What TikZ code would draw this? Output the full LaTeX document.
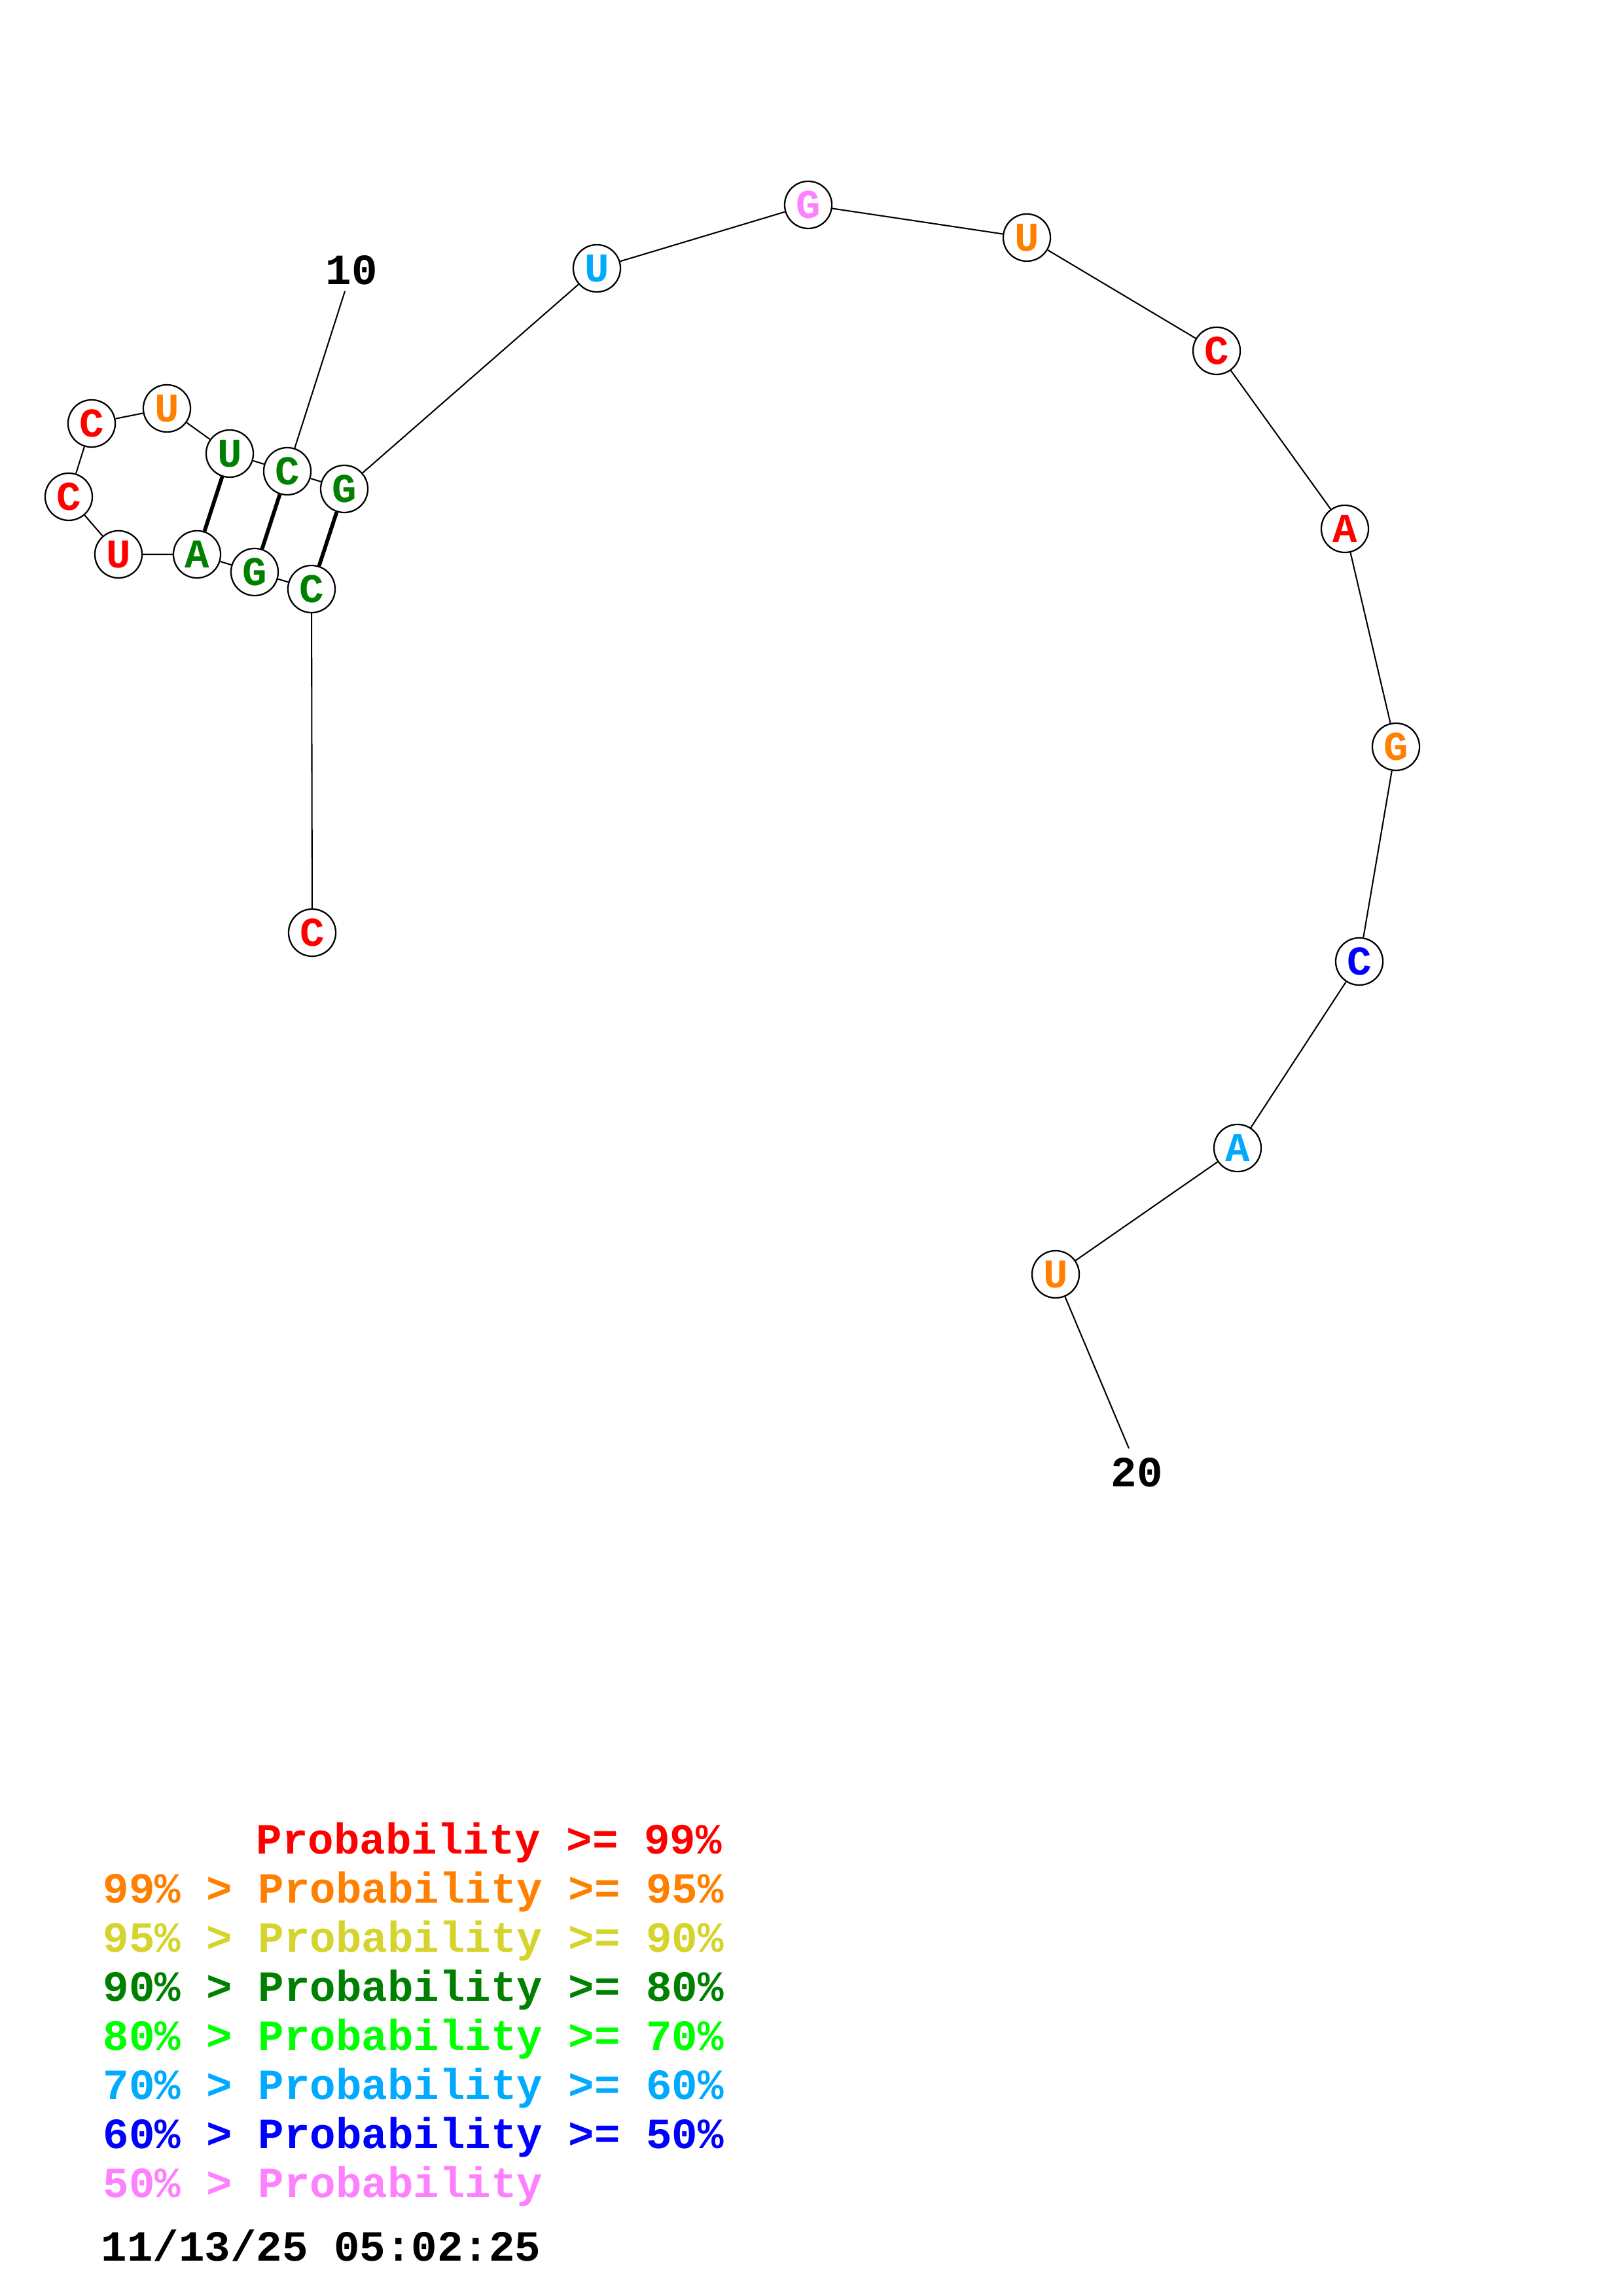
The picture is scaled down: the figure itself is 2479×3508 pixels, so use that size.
\documentclass[tikz,border=0pt]{standalone}
\usepackage{fontspec}
\newfontfamily\courfont{Liberation Mono}
\definecolor{pr99}{HTML}{FF0000}
\definecolor{pr95}{HTML}{FF8000}
\definecolor{pr90}{HTML}{D4D42C}
\definecolor{pr80}{HTML}{008000}
\definecolor{pr70}{HTML}{00FF00}
\definecolor{pr60}{HTML}{00AAFF}
\definecolor{pr50}{HTML}{0000FF}
\definecolor{pr00}{HTML}{FF80FF}
\tikzset{
  nt/.style={circle, draw, fill=white, line width=0.55pt, inner sep=0pt, minimum size=17.3pt, font=\courfont\bfseries\fontsize{15}{15}\selectfont},
  bb/.style={line width=0.5pt},
  bp/.style={line width=1.4pt},
  lbl/.style={inner sep=0pt, font=\courfont\bfseries\fontsize{15.8}{15.8}\selectfont},
}
\begin{document}
\begin{tikzpicture}[x=0.24pt, y=-0.24pt]
    \useasboundingbox (0,0) rectangle (2479,3508);

    % nucleotides
    \node[nt, text=pr99] (1) at (477,1425) {C};
    \node[nt, text=pr80] (2) at (476,900) {C};
    \node[nt, text=pr80] (3) at (389,874) {G};
    \node[nt, text=pr80] (4) at (301,847) {A};
    \node[nt, text=pr99] (5) at (181,847) {U};
    \node[nt, text=pr99] (6) at (105,759) {C};
    \node[nt, text=pr99] (7) at (140,647) {C};
    \node[nt, text=pr95] (8) at (255,624) {U};
    \node[nt, text=pr80] (9) at (351,693) {U};
    \node[nt, text=pr80] (10) at (439,720) {C};
    \node[nt, text=pr80] (11) at (526,747) {G};
    \node[nt, text=pr60] (12) at (912,410) {U};
    \node[nt, text=pr00] (13) at (1235,313) {G};
    \node[nt, text=pr95] (14) at (1569,363) {U};
    \node[nt, text=pr99] (15) at (1859,536) {C};
    \node[nt, text=pr99] (16) at (2055,808) {A};
    \node[nt, text=pr95] (17) at (2133,1141) {G};
    \node[nt, text=pr50] (18) at (2077,1469) {C};
    \node[nt, text=pr60] (19) at (1891,1754) {A};
    \node[nt, text=pr95] (20) at (1613,1947) {U};

    % numbering
    \node[lbl] (n10) at (537,413) {10};
    \node[lbl] (n20) at (1737,2250) {20};
    \coordinate (e10) at (527,445);
    \coordinate (e20) at (1725,2213);

    \draw[bb] (1) -- (2) -- (3) -- (4) -- (5) -- (6) -- (7) -- (8) -- (9) -- (10);
    \draw[bb] (10) -- (11) -- (12) -- (13) -- (14) -- (15) -- (16) -- (17) -- (18) -- (19) -- (20);
    \draw[bp] (2) -- (11);
    \draw[bp] (3) -- (10);
    \draw[bp] (4) -- (9);
    \draw[bb] (10) -- (e10);
    \draw[bb] (20) -- (e20);

    % legend
    \node[lbl, anchor=base west, text=pr99] (g99) at (391,2832) {Probability >= 99\%};
    \node[lbl, anchor=base west, text=pr95] (g95) at (157,2907) {99\% > Probability >= 95\%};
    \node[lbl, anchor=base west, text=pr90] (g90) at (157,2982) {95\% > Probability >= 90\%};
    \node[lbl, anchor=base west, text=pr80] (g80) at (157,3057) {90\% > Probability >= 80\%};
    \node[lbl, anchor=base west, text=pr70] (g70) at (157,3132) {80\% > Probability >= 70\%};
    \node[lbl, anchor=base west, text=pr60] (g60) at (157,3207) {70\% > Probability >= 60\%};
    \node[lbl, anchor=base west, text=pr50] (g50) at (157,3282) {60\% > Probability >= 50\%};
    \node[lbl, anchor=base west, text=pr00] (g00) at (157,3357) {50\% > Probability};
    \node[lbl, anchor=base west] (date) at (154,3454) {11/13/25 05:02:25};
\end{tikzpicture}
\end{document}
